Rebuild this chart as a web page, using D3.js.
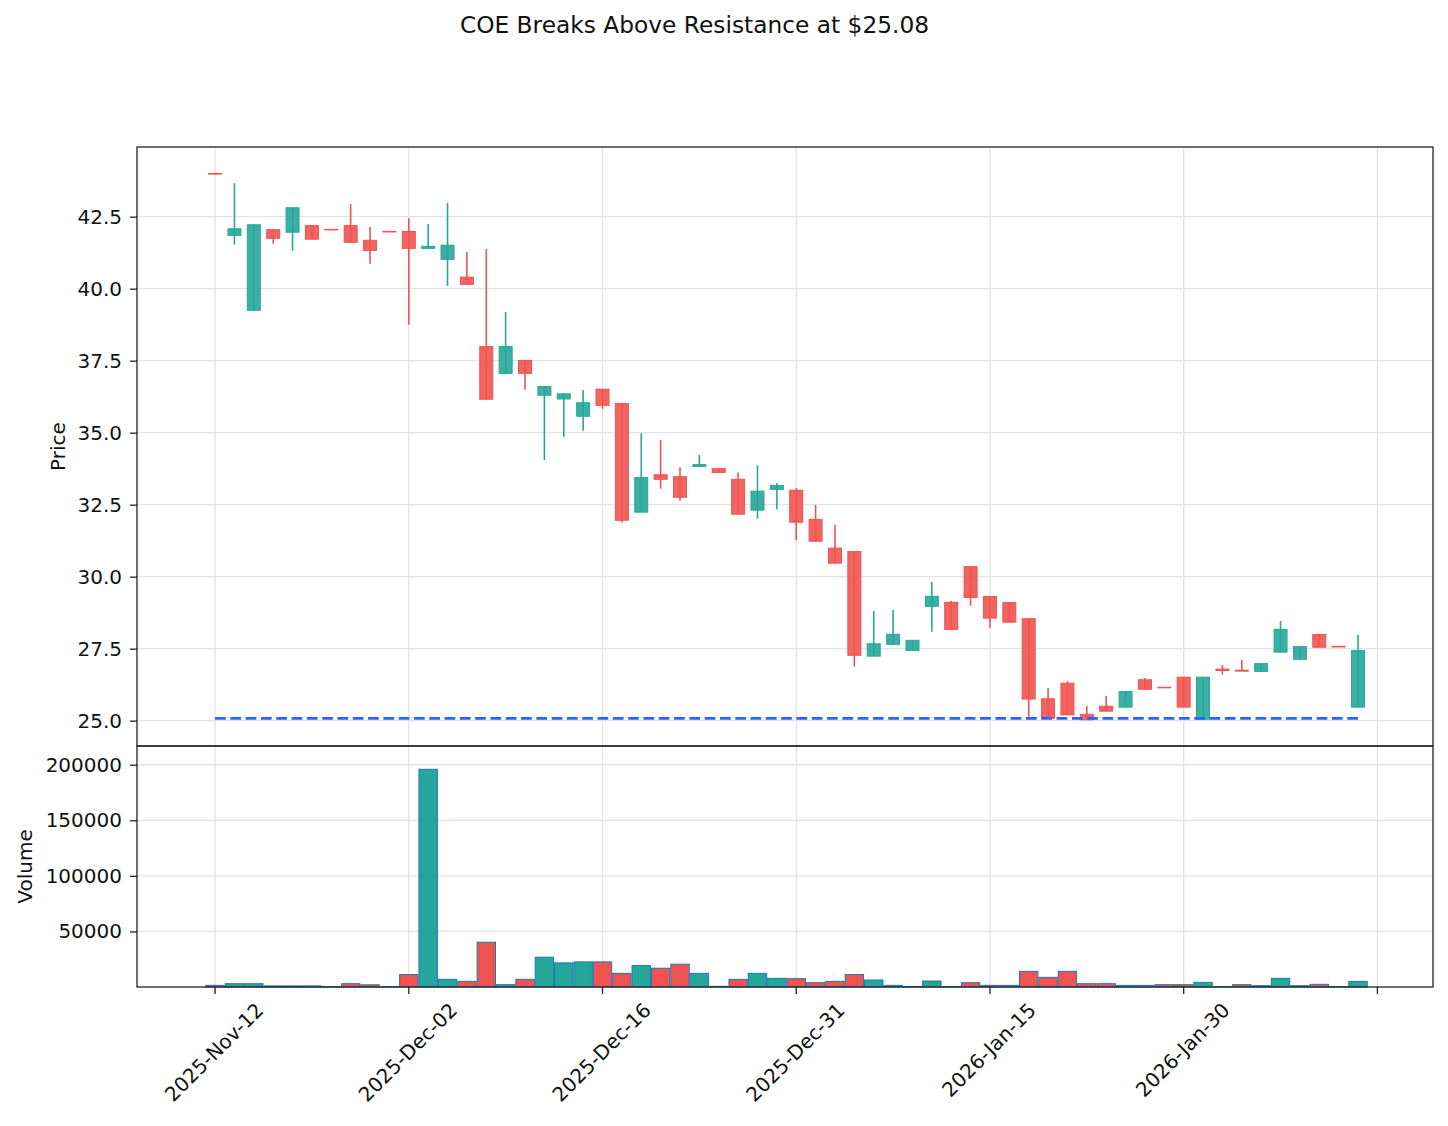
<!DOCTYPE html>
<html>
<head>
<meta charset="utf-8">
<script src="https://cdn.jsdelivr.net/npm/d3@7"></script>
<style>
  body { margin: 0; background: #fff; }
  text { font-family: "DejaVu Sans", sans-serif; fill: #111; }
</style>
</head>
<body>
<div id="chart"></div>
<script>
/* CONSTANTS AND GLOBALS */
const width = 1448,
  height = 1126,
  left = 137, right = 1433,
  priceTop = 147, priceBottom = 746,
  volTop = 746, volBottom = 987;

const upColor = "#26a69a", downColor = "#ef5350";
const fontSize = 20;

/* DATA */
const title = "COE Breaks Above Resistance at $25.08";
const resistance = 25.08;

const opens = [44.00, 41.85, 39.25, 42.05, 41.96, 42.19, 42.06, 42.19, 41.68, 41.99,
  41.99, 41.40, 41.02, 40.40, 37.99, 37.06, 37.51, 36.30, 36.17, 35.57,
  36.51, 36.01, 32.24, 33.54, 33.47, 33.83, 33.75, 33.38, 32.31, 33.03,
  33.00, 31.99, 30.99, 30.87, 27.24, 27.65, 27.44, 28.97, 29.11, 30.35,
  29.31, 29.10, 28.54, 25.76, 26.30, 25.22, 25.50, 25.47, 26.42, 26.16,
  26.51, 25.05, 26.79, 26.75, 26.71, 27.38, 27.13, 27.99, 27.58, 25.47];
const highs = [44.00, 43.66, 42.22, 42.05, 42.81, 42.19, 42.06, 42.94, 42.14, 41.99,
  42.45, 42.25, 42.98, 41.27, 41.38, 39.19, 37.51, 36.60, 36.35, 36.48,
  36.51, 36.01, 34.98, 34.75, 33.80, 34.23, 33.75, 33.62, 33.87, 33.25,
  33.07, 32.49, 31.80, 30.87, 28.81, 28.84, 27.79, 29.82, 29.16, 30.35,
  29.31, 29.10, 28.54, 26.13, 26.38, 25.51, 25.86, 26.01, 26.48, 26.16,
  26.51, 26.51, 26.93, 27.11, 26.98, 28.46, 27.57, 27.99, 27.58, 27.98];
const lows = [43.97, 41.53, 39.25, 41.56, 41.32, 41.72, 42.04, 41.61, 40.87, 41.97,
  38.75, 41.40, 40.10, 40.15, 36.16, 37.06, 36.49, 34.05, 34.86, 35.07,
  35.83, 31.88, 32.24, 33.06, 32.64, 33.83, 33.62, 32.17, 32.01, 32.33,
  31.27, 31.23, 30.47, 26.88, 27.24, 27.65, 27.44, 28.09, 28.17, 28.99,
  28.23, 28.42, 25.05, 25.08, 25.20, 25.02, 25.33, 25.47, 26.09, 26.14,
  25.47, 25.05, 26.60, 26.72, 26.71, 27.38, 27.13, 27.55, 27.56, 25.47];
const closes = [43.98, 42.08, 42.22, 41.75, 42.81, 41.72, 42.04, 41.61, 41.33, 41.97,
  41.40, 41.47, 41.51, 40.15, 36.16, 37.99, 37.06, 36.60, 36.35, 36.04,
  35.95, 31.96, 33.44, 33.38, 32.76, 33.89, 33.62, 32.17, 32.97, 33.17,
  31.89, 31.23, 30.47, 27.27, 27.67, 28.00, 27.79, 29.32, 28.17, 29.28,
  28.56, 28.42, 25.75, 25.08, 25.20, 25.03, 25.33, 26.01, 26.09, 26.14,
  25.47, 26.51, 26.74, 26.72, 26.98, 28.17, 27.57, 27.55, 27.56, 27.43];
const volumes = [1500, 3000, 3000, 1000, 1000, 1000, 300, 3000, 2000, 300,
  11200, 195900, 6900, 5100, 40300, 2100, 6900, 26800, 21700, 22600,
  22600, 12300, 19300, 16900, 20500, 12300, 600, 6900, 12300, 7800,
  7500, 3900, 5100, 11200, 6300, 1500, 500, 5400, 500, 3900,
  1500, 1500, 14100, 8700, 14100, 3000, 3000, 1500, 1500, 2100,
  2100, 4200, 300, 2100, 1200, 7800, 1200, 2400, 300, 5100];

const xTickIndex = [0, 10, 20, 30, 40, 50, 60];
const xTickLabels = ["2025-Nov-12", "2025-Dec-02", "2025-Dec-16", "2025-Dec-31", "2026-Jan-15", "2026-Jan-30", ""];
const priceTicks = [25.0, 27.5, 30.0, 32.5, 35.0, 37.5, 40.0, 42.5];
const volumeTicks = [50000, 100000, 150000, 200000];

const candles = opens.map((o, i) => ({
  i: i, open: o, high: highs[i], low: lows[i], close: closes[i], volume: volumes[i],
  up: closes[i] >= o
}));

/* SCALES */
const xScale = d3.scaleLinear().domain([-4.03, 62.87]).range([left, right]);
const yPrice = d3.scaleLinear().domain([24.12, 44.92]).range([priceBottom, priceTop]);
const yVol = d3.scaleLinear().domain([0, 216850]).range([volBottom, volTop]);
const step = xScale(1) - xScale(0);

const svg = d3.select("#chart").append("svg")
  .attr("width", width)
  .attr("height", height);

svg.append("rect").attr("width", width).attr("height", height).attr("fill", "#fff");

// title
svg.append("text")
  .attr("x", 694.5)
  .attr("y", 33)
  .attr("text-anchor", "middle")
  .style("font-size", "23.3px")
  .text(title);

// grid
const grid = svg.append("g").attr("stroke", "#e3e3e3").attr("stroke-width", 1.3);
grid.selectAll(".vg").data(xTickIndex).join("line")
  .attr("x1", d => xScale(d)).attr("x2", d => xScale(d))
  .attr("y1", priceTop).attr("y2", volBottom);
grid.selectAll(".pg").data(priceTicks).join("line")
  .attr("class", "pg")
  .attr("x1", left).attr("x2", right)
  .attr("y1", d => yPrice(d)).attr("y2", d => yPrice(d));
grid.selectAll(".vgl").data(volumeTicks).join("line")
  .attr("class", "vgl")
  .attr("x1", left).attr("x2", right)
  .attr("y1", d => yVol(d)).attr("y2", d => yVol(d));

// candles
const bodyW = step * 0.67;
const cg = svg.append("g");
cg.selectAll(".wick").data(candles).join("line")
  .attr("class", "wick")
  .attr("x1", d => xScale(d.i)).attr("x2", d => xScale(d.i))
  .attr("y1", d => yPrice(d.high)).attr("y2", d => yPrice(d.low))
  .attr("stroke", d => d.up ? upColor : downColor)
  .attr("stroke-width", 1.6);
cg.selectAll(".body").data(candles).join("rect")
  .attr("class", "body")
  .attr("x", d => xScale(d.i) - bodyW / 2)
  .attr("width", bodyW)
  .attr("y", d => yPrice(Math.max(d.open, d.close)))
  .attr("height", d => Math.abs(yPrice(d.open) - yPrice(d.close)))
  .attr("fill", d => d.up ? upColor : downColor)
  .attr("fill-opacity", 0.9)
  .attr("stroke", d => d.up ? upColor : downColor)
  .attr("stroke-width", 1);

// resistance line
svg.append("line")
  .attr("x1", xScale(0)).attr("x2", xScale(candles.length - 1))
  .attr("y1", yPrice(resistance)).attr("y2", yPrice(resistance))
  .attr("stroke", "#2962ff")
  .attr("stroke-width", 2.9)
  .attr("stroke-dasharray", "10.7,4.6");

// volume bars
const barW = step * 0.95;
svg.append("g").selectAll("rect").data(candles).join("rect")
  .attr("x", d => xScale(d.i) - barW / 2)
  .attr("width", barW)
  .attr("y", d => yVol(d.volume))
  .attr("height", d => yVol(0) - yVol(d.volume))
  .attr("fill", d => d.up ? upColor : downColor)
  .attr("stroke", "#1f77b4")
  .attr("stroke-width", 1);

// axes
const priceAxis = d3.axisLeft(yPrice).tickValues(priceTicks).tickFormat(d3.format(".1f")).tickSize(7).tickPadding(8);
const volAxis = d3.axisLeft(yVol).tickValues(volumeTicks).tickFormat(d3.format("d")).tickSize(7).tickPadding(8);

[svg.append("g").attr("transform", `translate(${left},0)`).call(priceAxis),
 svg.append("g").attr("transform", `translate(${left},0)`).call(volAxis)].forEach(g => {
  g.select(".domain").remove();
  g.selectAll(".tick line").attr("stroke", "#222").attr("stroke-width", 1.3);
  g.selectAll(".tick text").style("font-size", fontSize + "px").attr("fill", "#111");
});

// x ticks at bottom of volume panel
svg.append("g").selectAll("line").data(xTickIndex).join("line")
  .attr("x1", d => xScale(d)).attr("x2", d => xScale(d))
  .attr("y1", volBottom).attr("y2", volBottom + 7)
  .attr("stroke", "#222").attr("stroke-width", 1.3);

// rotated date labels, centred on tick
xTickIndex.forEach((d, k) => {
  if (!xTickLabels[k]) return;
  const g = svg.append("g");
  g.append("text")
    .attr("transform", "rotate(-45)")
    .attr("text-anchor", "middle")
    .attr("dominant-baseline", "central")
    .style("font-size", fontSize + "px")
    .text(xTickLabels[k]);
  const bb = g.node().getBBox();
  g.attr("transform", `translate(${xScale(d) - 1},${volBottom + 11 - bb.y})`);
});

// frames
svg.append("rect").attr("x", left).attr("y", priceTop)
  .attr("width", right - left).attr("height", priceBottom - priceTop)
  .attr("fill", "none").attr("stroke", "#222").attr("stroke-width", 1.3);
svg.append("rect").attr("x", left).attr("y", volTop)
  .attr("width", right - left).attr("height", volBottom - volTop)
  .attr("fill", "none").attr("stroke", "#222").attr("stroke-width", 1.3);

// axis titles
svg.append("text")
  .attr("transform", `translate(65,${(priceTop + priceBottom) / 2}) rotate(-90)`)
  .attr("text-anchor", "middle")
  .style("font-size", fontSize + "px")
  .text("Price");
svg.append("text")
  .attr("transform", `translate(32,${(volTop + volBottom) / 2}) rotate(-90)`)
  .attr("text-anchor", "middle")
  .style("font-size", fontSize + "px")
  .text("Volume");
</script>
</body>
</html>
